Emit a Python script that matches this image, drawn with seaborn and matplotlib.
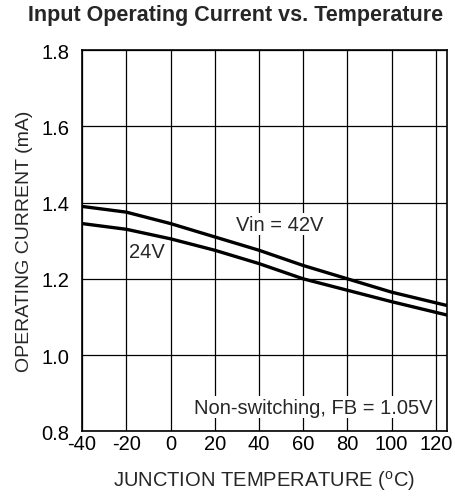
import pandas as pd
import matplotlib.pyplot as plt
import seaborn as sns

# ================== DATA ==================
temps = [-40, -20, 0, 20, 40, 60, 80, 100, 125]
i_42v = [1.39, 1.375, 1.345, 1.31, 1.275, 1.235, 1.20, 1.165, 1.13]
i_24v = [1.345, 1.33, 1.305, 1.275, 1.24, 1.20, 1.17, 1.14, 1.105]
series_names = ['Vin = 42V', '24V']
x_ticks = [-40, -20, 0, 20, 40, 60, 80, 100, 120]
y_ticks = [0.8, 1.0, 1.2, 1.4, 1.6, 1.8]

df = pd.DataFrame({
    'temp': temps * 2,
    'current': i_42v + i_24v,
    'vin': [series_names[0]] * len(temps) + [series_names[1]] * len(temps),
})

sns.set_style('white')
plt.rcParams['font.family'] = ['Liberation Sans', 'DejaVu Sans']
plt.rcParams['axes.unicode_minus'] = False
plt.rcParams['mathtext.default'] = 'regular'

fig = plt.figure(figsize=(4.56, 5.02), dpi=100)
ax = fig.add_axes([0.18, 0.139, 0.80, 0.759])

sns.lineplot(data=df, x='temp', y='current', units='vin', estimator=None,
             color='black', linewidth=2.4, legend=False, ax=ax)

ax.set_xlim(-40, 125)
ax.set_ylim(0.8, 1.8)
ax.set_xticks(x_ticks)
ax.set_yticks(y_ticks)
ax.set_yticklabels([f"{v:.1f}" for v in y_ticks])
ax.tick_params(length=0, labelsize=14.5, colors='black')
ax.tick_params(axis='x', pad=2)
ax.tick_params(axis='y', pad=9)
ax.grid(True, color='black', linewidth=0.9)
for s in ax.spines.values():
    s.set_color('black')
    s.set_linewidth(1.2)

ax.set_xlabel('JUNCTION TEMPERATURE ($^{o}$C)', fontsize=14.5, labelpad=11)
ax.set_ylabel('OPERATING CURRENT (mA)', fontsize=14, labelpad=6)
fig.suptitle('Input Operating Current vs. Temperature', fontsize=15.5,
             fontweight='bold', x=0.517, y=0.99)

ax.text(49.5, 1.343, 'Vin = 42V', fontsize=14.5, ha='center', va='center',
        bbox=dict(facecolor='white', edgecolor='none', pad=1))
ax.text(-10.5, 1.272, '24V', fontsize=14.5, ha='center', va='center',
        bbox=dict(facecolor='white', edgecolor='none', pad=1))
ax.text(118.5, 0.863, 'Non-switching, FB = 1.05V', fontsize=14.5, ha='right', va='center',
        bbox=dict(facecolor='white', edgecolor='none', pad=1))

plt.savefig('out.png', dpi=100)
plt.close()
